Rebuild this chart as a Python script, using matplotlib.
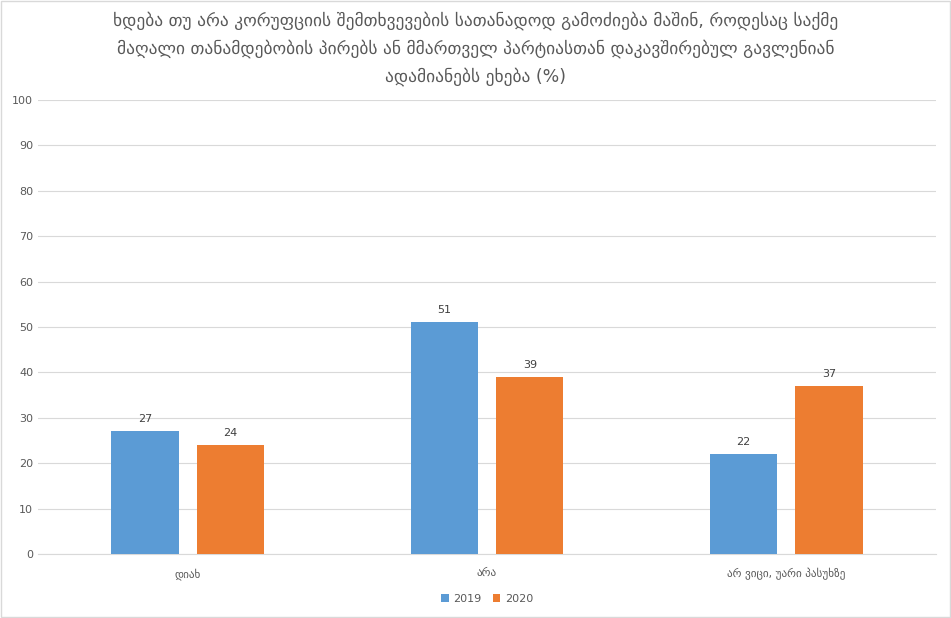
import numpy as np
import matplotlib.pyplot as plt

title = ("ხდება თუ არა კორუფციის შემთხვევების სათანადოდ გამოძიება მაშინ, როდესაც საქმე\n"
         "მაღალი თანამდებობის პირებს ან მმართველ პარტიასთან დაკავშირებულ გავლენიან\n"
         "ადამიანებს ეხება (%)")
categories = ["დიახ", "არა", "არ ვიცი, უარი პასუხზე"]
series_names = ["2019", "2020"]
values_2019 = [27, 51, 22]
values_2020 = [24, 39, 37]
colors = ["#5B9BD5", "#ED7D31"]
text_color = "#595959"

fig = plt.figure(figsize=(9.51, 6.18), dpi=100)
ax = fig.add_axes([38 / 951, 64 / 618, 898 / 951, 454 / 618])

x = np.arange(len(categories))
width = 0.225
offset = 0.143
for vals, name, col, off in zip([values_2019, values_2020], series_names, colors, [-offset, offset]):
    bars = ax.bar(x + off, vals, width, color=col, label=name, zorder=3)
    for b, v in zip(bars, vals):
        ax.text(b.get_x() + b.get_width() / 2, v + 1.6, str(v), ha="center", va="bottom",
                fontsize=8, color="#404040")

ax.set_xlim(-0.5, 2.5)
ax.set_ylim(0, 100)
ax.set_yticks(range(0, 101, 10))
ax.set_xticks(x)
ax.set_xticklabels(categories)
ax.tick_params(axis="both", length=0, labelsize=8, colors=text_color)
ax.tick_params(axis="x", pad=10)
ax.grid(axis="y", color="#D9D9D9", linewidth=0.8, zorder=0)
for side in ["top", "right", "left"]:
    ax.spines[side].set_visible(False)
ax.spines["bottom"].set_color("#D9D9D9")

fig.text(0.5, 0.982, title, ha="center", va="top", fontsize=12.5, color=text_color,
         linespacing=1.65)

ax.legend(loc="upper center", bbox_to_anchor=(0.5, -0.065), ncol=2, frameon=False,
          fontsize=8, handlelength=0.7, handleheight=0.7, columnspacing=1.0,
          handletextpad=0.4, labelcolor=text_color)

fig.patches.append(plt.Rectangle((0.001, 0.001), 0.998, 0.998, transform=fig.transFigure,
                                 fill=False, edgecolor="#D9D9D9", linewidth=1))

fig.savefig("out.png", dpi=100)
